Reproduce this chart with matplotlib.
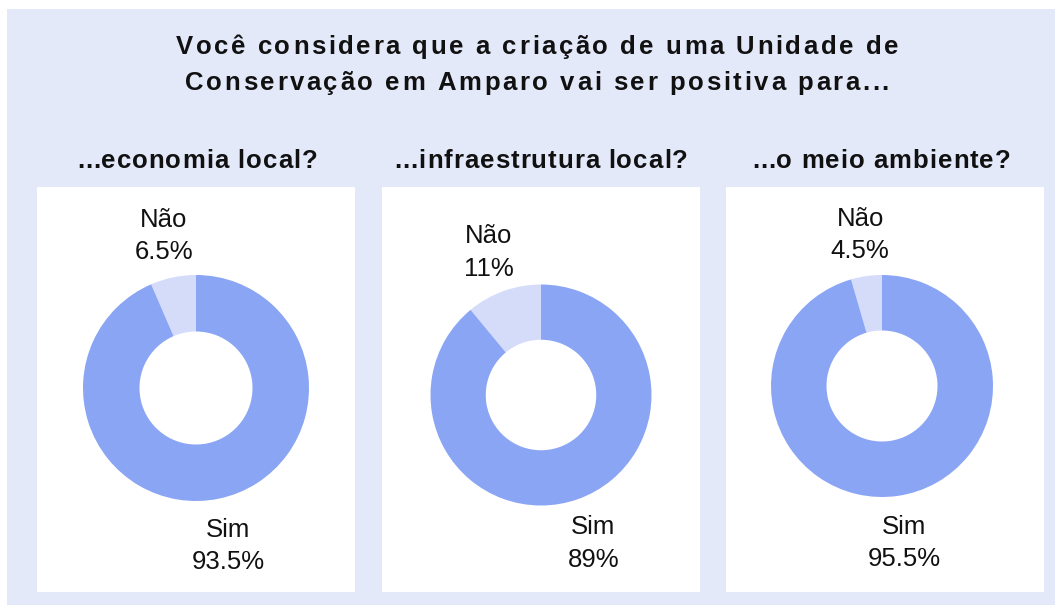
import matplotlib
matplotlib.use('Agg')
import matplotlib.pyplot as plt
from matplotlib.patches import Rectangle
from matplotlib.transforms import ScaledTranslation
from matplotlib.font_manager import FontProperties, findfont
from matplotlib.ft2font import FT2Font

plt.rcParams['font.family'] = ['Liberation Sans', 'DejaVu Sans']

# data
title_lines = ['Você considera que a criação de uma Unidade de',
               'Conservação em Amparo vai ser positiva para...']
questions = ['...economia local?', '...infraestrutura local?', '...o meio ambiente?']
answers = ['Não', 'Sim']
nao_pct = [6.5, 11, 4.5]
sim_pct = [93.5, 89, 95.5]

# layout, in pixels of the 1055x605 image
W, H = 1055, 605
DPI = 100
bg_color = '#e4e9fa'
sim_color = '#8ba5f5'
nao_color = '#d5dcfa'
text_color = '#111111'
panel_x = [37, 382, 726]
panel_y, panel_w, panel_h = 187, 318, 405
donut_cx = [196, 541, 882]
donut_cy = [388, 395, 386]
donut_r = [113, 110.5, 111]
subtitle_cx = [197, 541, 881]


def fig_box(x0, y0, w, h):
    """Pixel box (top-left origin) -> figure fraction rect."""
    return [x0 / W, 1 - (y0 + h) / H, w / W, h / H]


def char_advances(s, size, weight):
    path = findfont(FontProperties(family='Liberation Sans', weight=weight))
    font = FT2Font(path)
    font.set_size(size, DPI)
    return [font.load_char(ord(c)).linearHoriAdvance / 65536 for c in s]


def spaced_text(fig, cx, baseline, s, size, weight, spacing):
    """Centered text with extra letter spacing (px), placed char by char."""
    adv = char_advances(s, size, weight)
    width = sum(adv) + spacing * (len(s) - 1)
    x = cx - width / 2
    for c, a in zip(s, adv):
        if c != ' ':
            fig.text(x / W, 1 - baseline / H, c, ha='left', va='baseline',
                     fontsize=size, fontweight=weight, color=text_color)
        x += a + spacing


fig = plt.figure(figsize=(W / DPI, H / DPI), dpi=DPI)
fig.patch.set_facecolor('white')

x0, y0, w, h = fig_box(7, 9, W - 7, H - 9)
fig.add_artist(Rectangle((x0, y0), w, h, transform=fig.transFigure,
                         facecolor=bg_color, edgecolor='none', zorder=-2))

for line, base in zip(title_lines, [54, 90]):
    spaced_text(fig, 537, base, line, 18.5, 'bold', 2.6)

for i, q in enumerate(questions):
    x0, y0, w, h = fig_box(panel_x[i], panel_y, panel_w, panel_h)
    fig.add_artist(Rectangle((x0, y0), w, h, transform=fig.transFigure,
                             facecolor='white', edgecolor='none', zorder=-1))
    spaced_text(fig, subtitle_cx[i], 168, q, 18.5, 'bold', 1.0)

    r = donut_r[i]
    ax = fig.add_axes(fig_box(donut_cx[i] - r, donut_cy[i] - r, 2 * r, 2 * r))
    vals = [nao_pct[i], sim_pct[i]]
    labels = ['%s\n%g%%' % (a, v) for a, v in zip(answers, vals)]
    wedges, texts = ax.pie(vals, labels=labels, colors=[nao_color, sim_color],
                           startangle=90, counterclock=True, labeldistance=1.40,
                           wedgeprops=dict(width=0.5, linewidth=0),
                           textprops=dict(fontsize=18.5, color=text_color))
    shift = ScaledTranslation(0, -3 / DPI, fig.dpi_scale_trans)
    for t in texts:
        t.set_ha('center')
        t.set_va('center')
        t.set_linespacing(1.45)
        t.set_transform(ax.transData + shift)
    ax.set_xlim(-1, 1)
    ax.set_ylim(-1, 1)
    ax.set_aspect('equal')
    ax.axis('off')

fig.savefig('out.png', dpi=DPI)
